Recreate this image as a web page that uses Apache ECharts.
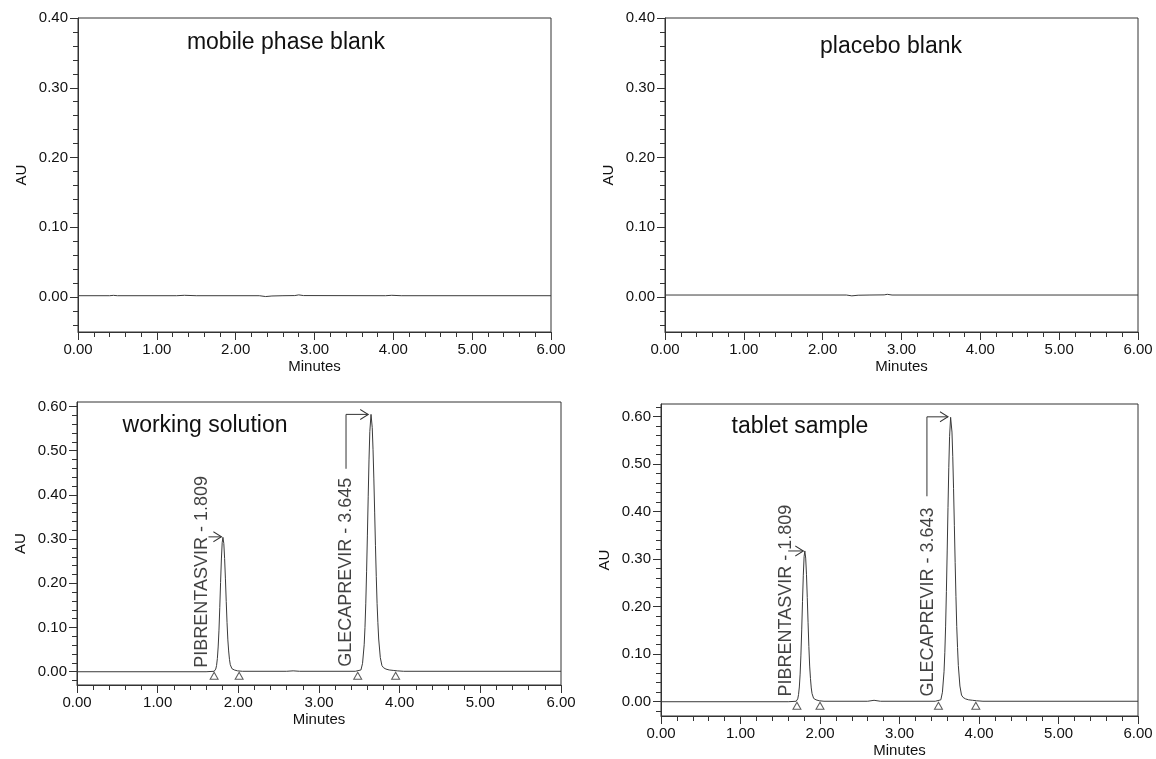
<!DOCTYPE html>
<html>
<head>
<meta charset="utf-8">
<title>Chromatograms</title>
<script src="https://cdn.jsdelivr.net/npm/echarts@6/dist/echarts.min.js"></script>
<style>
  html, body { margin: 0; padding: 0; background: #fff; }
  #chart { width: 1156px; height: 759px; }
</style>
</head>
<body>
<div id="chart"></div>
<script>
// retention time (min), absorbance (AU)
var mobileBlank = [
  [0, 0.002], [0.40, 0.002], [0.45, 0.0025], [0.50, 0.002], [1.25, 0.002], [1.35, 0.0026],
  [1.50, 0.002], [2.30, 0.002], [2.38, 0.0008], [2.46, 0.0016], [2.60, 0.002], [2.75, 0.0022],
  [2.80, 0.0032], [2.86, 0.0022], [3.90, 0.002], [3.98, 0.0026], [4.10, 0.002], [6.00, 0.002]
]
var placeboBlank = [
  [0, 0.003], [2.30, 0.003], [2.37, 0.0018], [2.45, 0.0027], [2.60, 0.003], [2.78, 0.0032],
  [2.82, 0.004], [2.88, 0.003], [6.00, 0.003]
]
var workingSolution = [
  [0, 0], [1.60, 0], [1.70, 0.001], [1.71, 0.003], [1.72, 0.006], [1.73, 0.014], [1.74, 0.030],
  [1.75, 0.056], [1.76, 0.094], [1.77, 0.145], [1.78, 0.202], [1.79, 0.255], [1.80, 0.292],
  [1.809, 0.304], [1.82, 0.290], [1.83, 0.256], [1.84, 0.210], [1.85, 0.159], [1.86, 0.111],
  [1.87, 0.072], [1.88, 0.047], [1.89, 0.028], [1.90, 0.016], [1.92, 0.007], [1.95, 0.004],
  [1.99, 0.002], [2.05, 0.001], [2.60, 0.001], [2.68, 0.002], [2.76, 0.001], [3.45, 0.001],
  [3.52, 0.004], [3.54, 0.019], [3.56, 0.061], [3.57, 0.100], [3.58, 0.155], [3.59, 0.226],
  [3.60, 0.309], [3.61, 0.397], [3.62, 0.479], [3.63, 0.543], [3.645, 0.582], [3.66, 0.552],
  [3.67, 0.502], [3.68, 0.436], [3.69, 0.361], [3.70, 0.285], [3.71, 0.215], [3.72, 0.154],
  [3.73, 0.111], [3.74, 0.074], [3.76, 0.032], [3.78, 0.014], [3.80, 0.009], [3.83, 0.006],
  [3.87, 0.004], [3.92, 0.003], [3.97, 0.002], [4.05, 0.001], [6.00, 0.001]
]
var tabletSample = [
  [0, 0], [1.60, 0], [1.70, 0.001], [1.71, 0.003], [1.72, 0.006], [1.73, 0.015], [1.74, 0.031],
  [1.75, 0.058], [1.76, 0.098], [1.77, 0.151], [1.78, 0.211], [1.79, 0.266], [1.80, 0.305],
  [1.809, 0.317], [1.82, 0.302], [1.83, 0.267], [1.84, 0.219], [1.85, 0.166], [1.86, 0.116],
  [1.87, 0.075], [1.88, 0.049], [1.89, 0.029], [1.90, 0.017], [1.92, 0.007], [1.95, 0.004],
  [1.99, 0.002], [2.05, 0.001], [2.60, 0.001], [2.68, 0.003], [2.76, 0.001], [3.45, 0.001],
  [3.52, 0.004], [3.54, 0.020], [3.56, 0.063], [3.57, 0.103], [3.58, 0.159], [3.59, 0.232],
  [3.60, 0.317], [3.61, 0.408], [3.62, 0.492], [3.63, 0.558], [3.643, 0.598], [3.66, 0.567],
  [3.67, 0.516], [3.68, 0.448], [3.69, 0.371], [3.70, 0.293], [3.71, 0.221], [3.72, 0.158],
  [3.73, 0.114], [3.74, 0.076], [3.76, 0.033], [3.78, 0.014], [3.80, 0.009], [3.83, 0.006],
  [3.87, 0.004], [3.92, 0.003], [3.97, 0.002], [4.05, 0.001], [6.00, 0.001]
]

// peak annotations
var workingPeakNames = ['PIBRENTASVIR - 1.809', 'GLECAPREVIR - 3.645']
var tabletPeakNames = ['PIBRENTASVIR - 1.809', 'GLECAPREVIR - 3.643']
var workingMarkers = [1.70, 2.01, 3.48, 3.95]
var tabletMarkers = [1.71, 2.00, 3.49, 3.96]

// axis ticks
var auTicksBlank = [0.00, 0.10, 0.20, 0.30, 0.40]
var auTicksSample = [0.00, 0.10, 0.20, 0.30, 0.40, 0.50, 0.60]

var FONT = '"Liberation Sans", Arial, Helvetica, sans-serif'
var INK = '#111'
var LINE = '#333'
var CHEVRON = 'path://M0,0L8,5L0,10'

function minorTicks(min, max) {
  var out = []
  for (var v = Math.ceil(min / 0.02) * 0.02; v <= max + 1e-9; v += 0.02) {
    out.push(Math.round(v * 100) / 100)
  }
  return out
}

var panels = [
  {
    title: 'mobile phase blank', titleX: 286, titleY: 31,
    grid: { left: 78, top: 18, width: 473, height: 314 },
    yMin: -0.05, yMax: 0.40, ticks: auTicksBlank, trace: mobileBlank
  },
  {
    title: 'placebo blank', titleX: 891, titleY: 35,
    grid: { left: 665, top: 18, width: 473, height: 314 },
    yMin: -0.05, yMax: 0.40, ticks: auTicksBlank, trace: placeboBlank
  },
  {
    title: 'working solution', titleX: 205, titleY: 414,
    grid: { left: 77, top: 402, width: 484, height: 283 },
    yMin: -0.03, yMax: 0.61, ticks: auTicksSample, trace: workingSolution,
    names: workingPeakNames, markers: workingMarkers,
    labelAt: [[1.556, 0.009], [3.335, 0.011]],
    leaders: [
      [[1.63, 0.305], [1.79, 0.305]],
      [[3.335, 0.459], [3.335, 0.582], [3.61, 0.582]]
    ]
  },
  {
    title: 'tablet sample', titleX: 800, titleY: 415,
    grid: { left: 661, top: 404, width: 477, height: 313 },
    yMin: -0.03, yMax: 0.626, ticks: auTicksSample, trace: tabletSample,
    names: tabletPeakNames, markers: tabletMarkers,
    labelAt: [[1.567, 0.011], [3.355, 0.011]],
    leaders: [
      [[1.60, 0.317], [1.79, 0.317]],
      [[3.345, 0.432], [3.345, 0.599], [3.61, 0.599]]
    ]
  }
]

var titles = []
var grids = []
var xAxes = []
var yAxes = []
var series = []

panels.forEach(function(p, i) {
  titles.push({
    text: p.title,
    left: p.titleX,
    top: p.titleY,
    textAlign: 'center',
    padding: 0,
    textStyle: { fontSize: 23, fontWeight: 'normal', color: INK, fontFamily: FONT }
  })
  grids.push({
    left: p.grid.left, top: p.grid.top, width: p.grid.width, height: p.grid.height,
    show: true, borderColor: LINE, borderWidth: 1
  })
  xAxes.push({
    gridIndex: i,
    type: 'value',
    min: 0,
    max: 6,
    interval: 1,
    name: 'Minutes',
    nameLocation: 'middle',
    nameGap: 27,
    nameTextStyle: { fontSize: 15, color: INK, fontFamily: FONT },
    axisLine: { show: true, onZero: false, lineStyle: { color: LINE, width: 1 } },
    axisTick: { show: true, length: 8, lineStyle: { color: LINE } },
    minorTick: { show: true, splitNumber: 5, length: 5, lineStyle: { color: LINE } },
    axisLabel: {
      margin: 10, fontSize: 15, color: INK, fontFamily: FONT,
      formatter: function(v) { return v.toFixed(2) }
    },
    splitLine: { show: false }
  })
  var mainY = yAxes.length
  yAxes.push({
    gridIndex: i,
    type: 'value',
    min: p.yMin,
    max: p.yMax,
    name: 'AU',
    nameLocation: 'middle',
    nameGap: 49,
    nameTextStyle: { fontSize: 15, color: INK, fontFamily: FONT },
    axisLine: { show: true, onZero: false, lineStyle: { color: LINE, width: 1 } },
    axisTick: { show: true, length: 8, customValues: p.ticks, lineStyle: { color: LINE } },
    axisLabel: {
      customValues: p.ticks, margin: 10, fontSize: 15, color: INK, fontFamily: FONT,
      formatter: function(v) { return v.toFixed(2) }
    },
    splitLine: { show: false }
  })
  yAxes.push({
    gridIndex: i,
    type: 'value',
    min: p.yMin,
    max: p.yMax,
    position: 'left',
    axisLine: { show: false },
    axisTick: { show: true, length: 5, customValues: minorTicks(p.yMin, p.yMax), lineStyle: { color: LINE } },
    axisLabel: { show: false },
    splitLine: { show: false }
  })

  series.push({
    type: 'line',
    xAxisIndex: i,
    yAxisIndex: mainY,
    data: p.trace,
    showSymbol: false,
    lineStyle: { color: '#3a3a3a', width: 1 },
    z: 3
  })

  if (!p.names) return

  series.push({
    type: 'scatter',
    xAxisIndex: i,
    yAxisIndex: mainY,
    data: p.markers.map(function(t) { return [t, 0] }),
    symbol: 'triangle',
    symbolSize: [8, 7],
    symbolOffset: [0, 4],
    itemStyle: { color: '#fff', borderColor: LINE, borderWidth: 1 },
    z: 4
  })
  series.push({
    type: 'scatter',
    xAxisIndex: i,
    yAxisIndex: mainY,
    symbolSize: 0,
    data: p.names.map(function(n, k) { return { name: n, value: p.labelAt[k] } }),
    label: {
      show: true,
      position: 'inside',
      rotate: 90,
      align: 'left',
      verticalAlign: 'middle',
      formatter: '{b}',
      fontSize: 18,
      color: INK,
      fontFamily: FONT
    },
    z: 5
  })
  p.leaders.forEach(function(path) {
    series.push({
      type: 'line',
      xAxisIndex: i,
      yAxisIndex: mainY,
      symbol: 'none',
      lineStyle: { color: LINE, width: 1 },
      data: path.map(function(pt, k) {
        if (k < path.length - 1) return { value: pt, symbol: 'none' }
        return {
          value: pt,
          symbol: CHEVRON,
          symbolSize: [8, 10],
          symbolOffset: [-4, 0],
          itemStyle: { color: 'rgba(0,0,0,0)', borderColor: LINE, borderWidth: 1 }
        }
      }),
      z: 4
    })
  })
})

var chart = echarts.init(document.getElementById('chart'))
chart.setOption({
  backgroundColor: '#fff',
  animation: false,
  title: titles,
  grid: grids,
  xAxis: xAxes,
  yAxis: yAxes,
  series: series
})
</script>
</body>
</html>
